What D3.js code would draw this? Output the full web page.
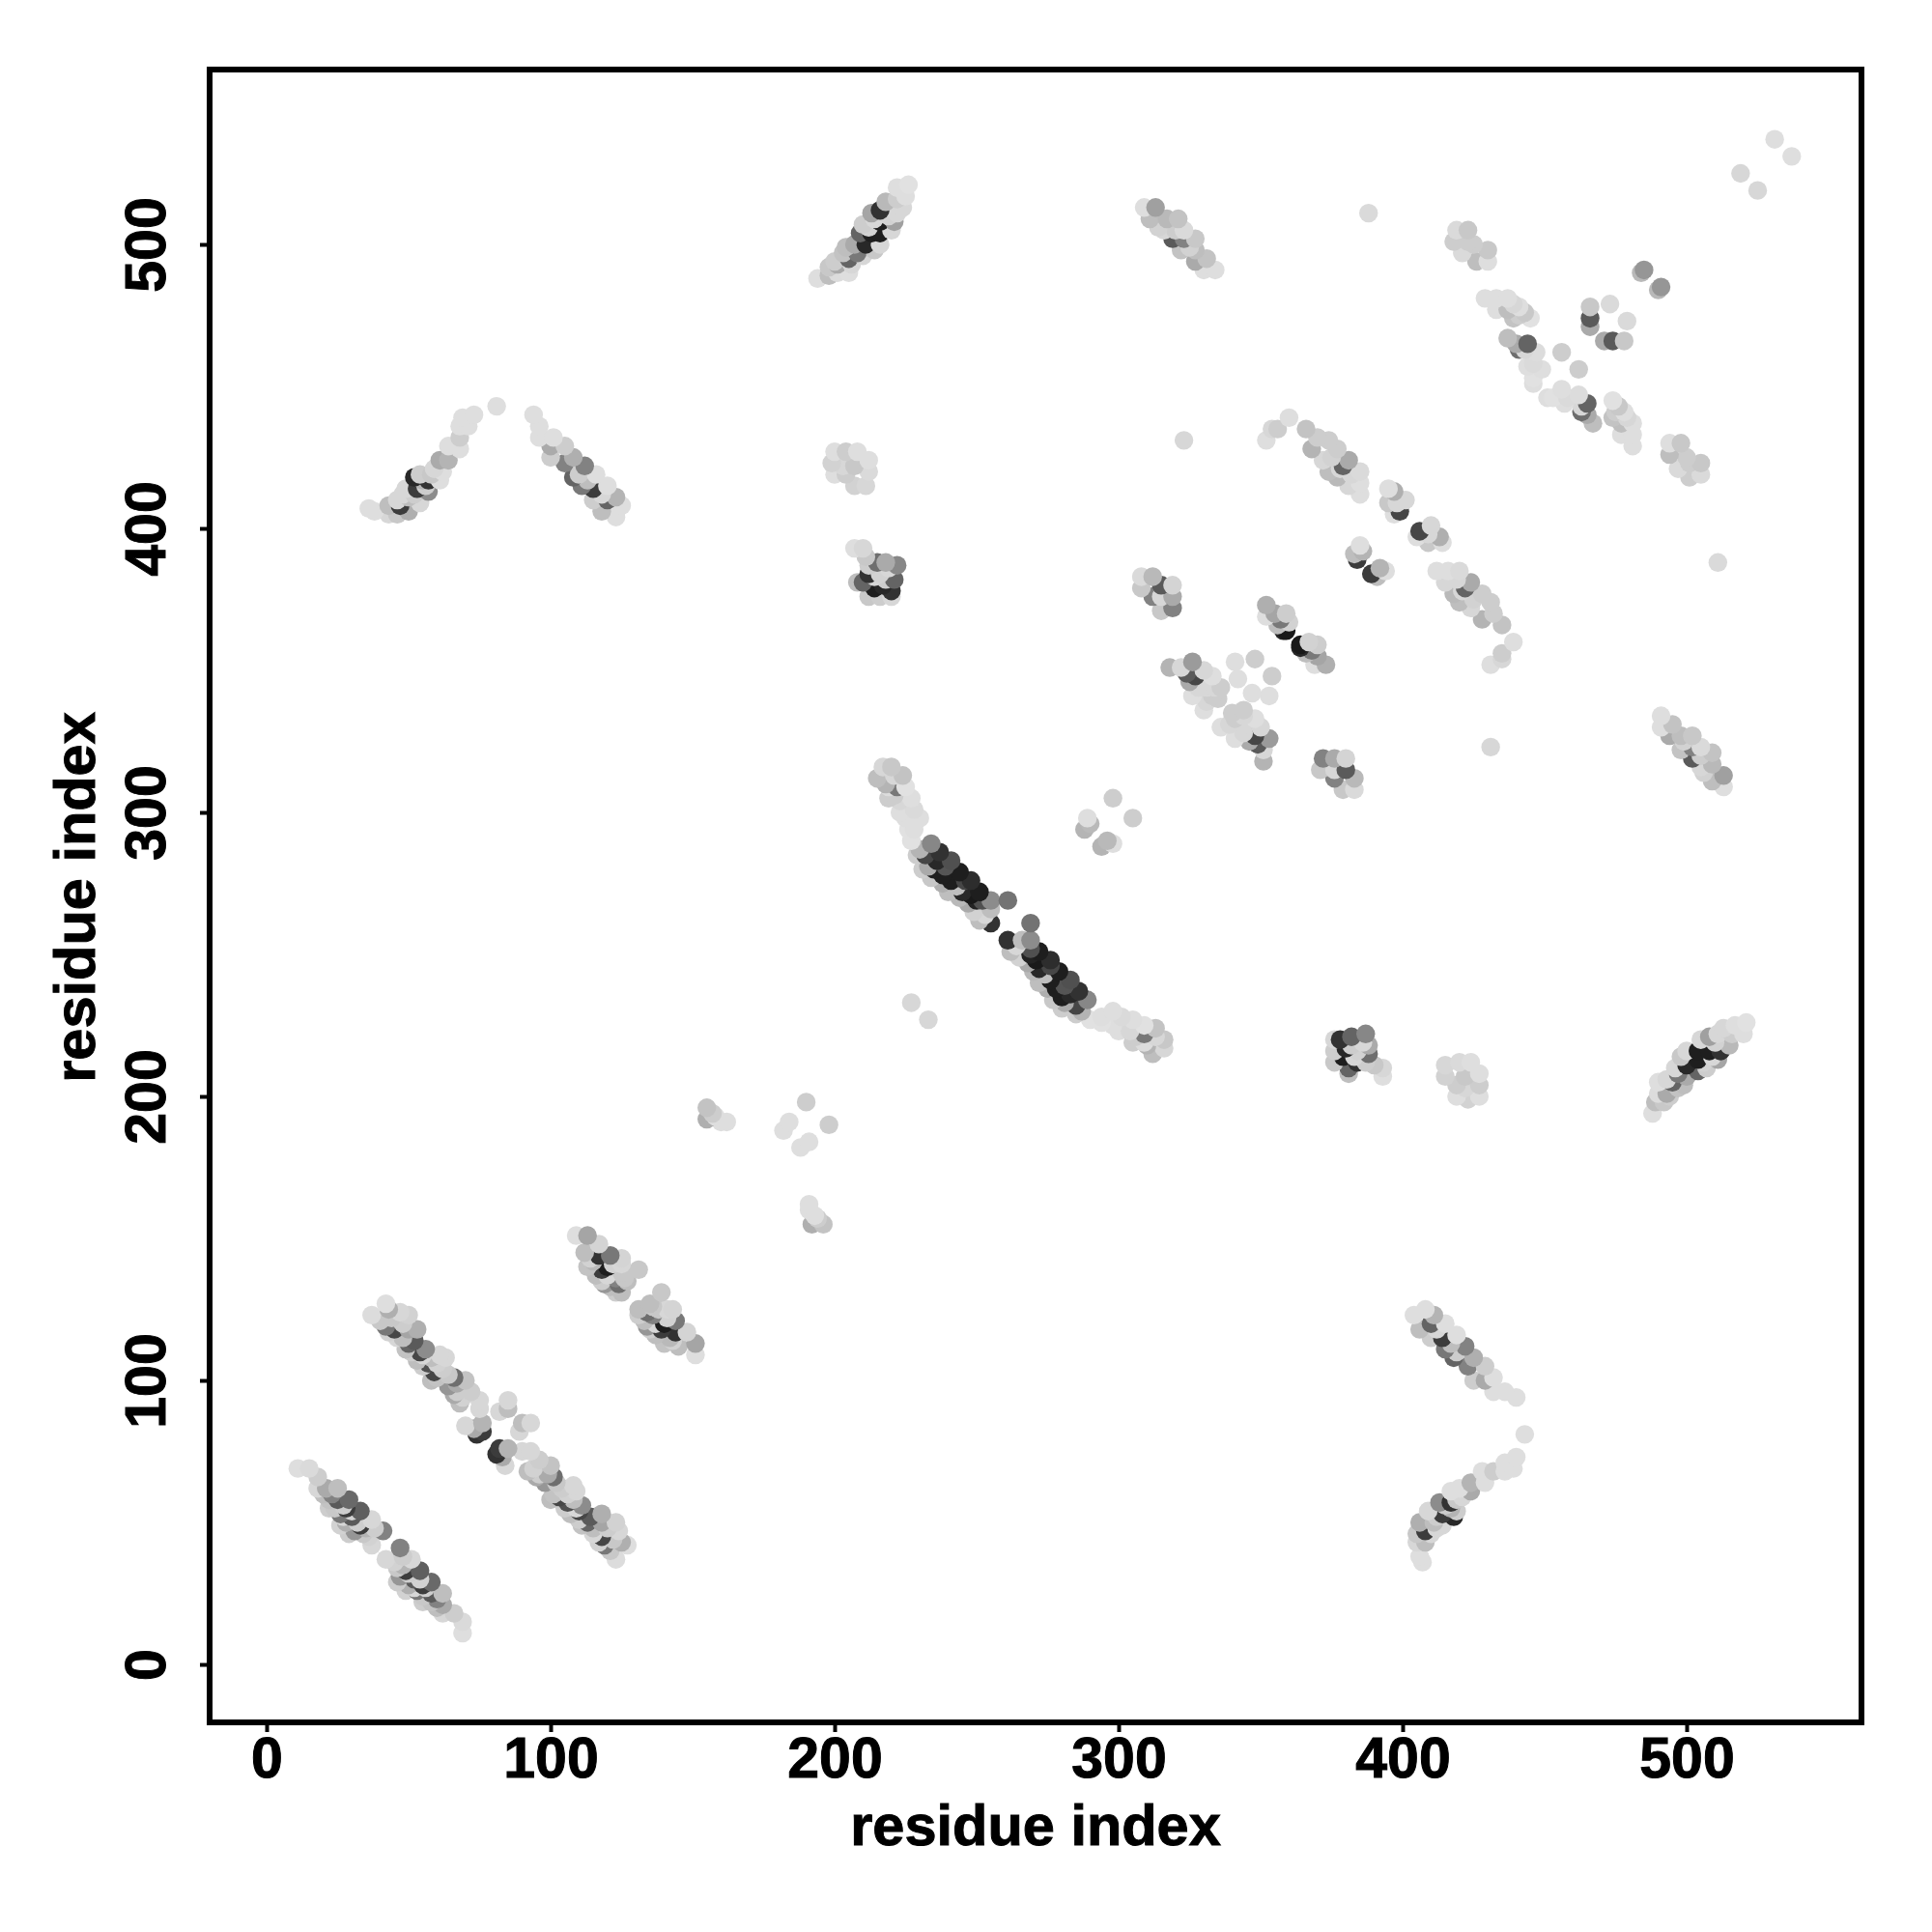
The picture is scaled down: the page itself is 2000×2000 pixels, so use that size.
<!DOCTYPE html>
<html><head><meta charset="utf-8">
<script src="https://cdn.jsdelivr.net/npm/d3@7"></script>
<style>html,body{margin:0;padding:0;background:#fff}svg{display:block}text{font-family:"Liberation Sans",Arial,sans-serif;font-weight:700;fill:#000;stroke:#000;stroke-width:1px}</style>
</head><body><div id="chart"></div>
<script>
// Each row: residue i, residue j, gray level. The map is symmetric: (i,j) is also drawn as (j,i).
const tickValues = [0,100,200,300,400,500];
const axisLabel = "residue index";
const strandA = [[11,69,222],[15,69,218],[18,66,205],[18,62,215],[20,60,190],[21,62,170],[22,58,195],[25,62,190],[24,55,200],[26,53,120],[27,56,205],[29,58,105],[28,50,175],[30,54,210],[30,52,90],[33,54,95],[31,47,150],[33,49,60],[35,48,180],[37,51,215],[36,45,210],[38,48,205],[37,42,215],[41,47,130],[23,60,130],[25,58,90],[27,52,215],[32,50,205],[34,46,200],[28,55,60],[22,55,205],[26,49,210],[29,46,205]];
const strandB = [[37,123,220],[42,127,222],[40,121,200],[43,125,175],[42,119,120],[44,122,200],[45,118,70],[47,124,215],[48,120,205],[50,123,210],[48,115,190],[50,118,165],[53,118,175],[50,113,100],[52,114,90],[49,111,195],[54,110,70],[56,111,140],[55,105,205],[57,106,80],[61,109,215],[59,103,70],[63,108,215],[60,101,195],[62,104,205],[66,101,110],[64,98,150],[67,99,170],[70,100,195],[66,95,170],[68,92,190],[72,96,205],[75,93,215],[75,90,215],[70,84,215],[73,83,170],[74,81,50],[76,82,60],[76,85,180],[82,89,215],[85,90,190],[85,93,215],[43,117,210],[46,115,215],[51,110,205],[53,107,190],[55,109,215],[58,108,190],[58,100,190],[60,106,210],[64,102,200],[67,96,205],[69,94,210]];
const strandC = [[109,151,222],[112,145,190],[113,151,165],[115,142,185],[117,144,50],[117,148,212],[113,140,195],[116,137,190],[118,139,60],[121,144,120],[120,140,30],[119,134,150],[121,133,190],[123,136,130],[125,143,212],[124,134,110],[125,138,200],[125,131,190],[127,135,190],[131,139,200],[114,143,210],[118,135,205],[120,137,215],[122,141,210],[123,131,205],[125,141,215],[126,136,200]];
const clusterD = [[155,192,175],[155,196,195],[157,194,205],[158,193,222],[160,191,222],[162,191,222]];
const clusterE = [[190,198,205],[182,188,222],[184,191,222]];
const mainCurve = [[215,312,190],[217,316,215],[218,310,180],[220,316,200],[221,306,205],[222,309,120],[219,309,220],[221,313,215],[224,313,195],[223,304,215],[225,309,225],[227,305,222],[225,298,222],[228,301,218],[226,294,225],[230,298,222],[227,290,225],[229,285,205],[230,287,180],[232,285,70],[234,289,135],[233,281,170],[235,280,30],[236,283,40],[237,286,50],[238,275,175],[238,278,30],[239,281,85],[241,283,80],[241,276,30],[243,274,190],[244,279,30],[245,272,40],[246,276,70],[248,276,45],[247,268,170],[248,271,25],[250,269,35],[251,272,30],[252,269,80],[251,262,190],[253,264,215],[255,266,190],[255,269,140],[255,261,50],[261,269,115],[219,305,205],[223,300,222],[231,280,205],[234,277,200],[240,272,190],[244,270,185],[249,265,210],[228,294,222]];
const pairsF = [[227,233,215],[298,305,205],[288,294,180],[289,298,222],[290,296,185]];
const strandG = [[194,488,222],[198,489,190],[198,492,200],[201,490,220],[203,497,195],[201,493,170],[205,490,222],[205,495,100],[206,493,215],[207,500,170],[209,504,100],[208,497,120],[211,500,40],[213,504,30],[216,504,30],[216,500,215],[214,498,200],[216,508,30],[213,511,165],[216,512,50],[221,508,160],[218,515,185],[222,511,215],[222,516,205],[222,520,222],[225,517,222],[226,521,225],[200,494,205],[204,499,190],[210,507,205],[212,506,210],[214,509,215],[219,510,210],[210,496,215],[220,505,215],[224,513,215]];
const clusterH = [[199,423,210],[200,427,222],[200,419,222],[204,427,205],[203,422,215],[204,419,205],[207,422,200],[207,415,210],[208,427,222],[211,415,215],[212,420,218],[212,424,222]];
const clusterI = [[207,393,222],[208,381,190],[210,393,215],[210,381,100],[211,390,200],[212,376,200],[212,384,50],[215,388,110],[214,379,30],[216,376,205],[216,384,210],[218,388,170],[217,380,40],[220,378,50],[220,376,215],[221,382,100],[219,386,215],[222,387,135],[212,387,205],[214,383,215],[218,382,205]];
const strandJ = [[309,513,222],[311,509,190],[313,513,160],[316,505,215],[317,509,185],[319,502,90],[321,509,195],[322,498,195],[323,505,218],[323,502,130],[327,494,170],[327,498,190],[327,502,200],[330,491,222],[331,495,195],[334,491,222],[314,506,210],[320,505,205],[325,499,210]];
const clusterK = [[308,379,200],[308,383,218],[312,383,185],[312,376,130],[315,371,200],[315,376,215],[315,380,90],[319,372,130],[319,376,170],[319,380,212]];
const singles = [[323,431,215],[388,511,218],[456,462,205],[519,525,215],[531,537,222]];
const curveL = [[352,431,222],[354,435,215],[356,435,205],[360,439,222],[366,435,195],[368,428,180],[370,432,205],[372,424,215],[374,431,205],[374,420,190],[377,428,205],[377,418,185],[379,422,100],[381,415,215],[381,424,170],[385,412,222],[385,416,222],[385,420,218],[375,425,210],[378,421,215],[382,419,215]];
const clusterM = [[395,414,222],[395,409,200],[397,413,175],[397,405,222],[399,406,70],[401,410,215],[398,409,215]];
const clusterN = [[383,391,190],[384,389,60],[385,394,222],[386,392,180]];
const crossO = [[318,351,180],[322,351,215],[324,349,90],[326,353,155],[326,341,222],[325,346,170],[327,348,70],[330,350,215],[330,336,222],[331,344,215],[333,348,222],[333,341,205],[335,340,205],[336,344,205],[342,347,222],[341,353,222],[348,354,205],[328,344,215],[331,339,215],[334,344,215]];
const clusterP = [[352,373,175],[352,369,222],[355,370,165],[356,366,190],[357,368,120],[358,364,40],[359,364,25],[359,370,205],[360,367,210]];
const strandQ = [[419,505,218],[418,501,205],[423,505,200],[421,497,218],[423,501,205],[425,500,205],[426,494,190],[430,498,200],[430,494,222]];
const clusterR = [[484,490,185],[485,491,150],[466,471,170],[466,474,90],[466,478,200],[473,479,218]];
const crossS = [[429,481,222],[433,481,222],[433,477,222],[437,481,222],[437,477,190],[439,474,195],[441,478,222],[443,476,200],[445,474,225],[437,467,190],[440,465,170],[441,463,110],[443,463,215],[444,465,100],[447,462,220],[444,457,222],[446,453,225],[449,456,222],[446,458,218],[439,479,215],[441,475,205],[446,451,222]];
const armT = [[36,407,222],[38,406,222],[43,405,215],[43,408,190],[46,405,200],[46,410,215],[47,408,60],[50,406,175],[50,411,190],[49,414,215],[52,418,40],[53,414,60],[54,409,215],[55,417,180],[57,413,140],[57,417,50],[58,419,200],[59,421,215],[61,424,170],[61,417,222],[62,420,222],[64,424,180],[64,429,222],[68,428,222],[68,432,205],[68,436,222],[69,439,222],[71,436,222],[73,440,222],[81,443,222],[48,412,215],[52,412,205],[54,419,205],[56,415,205]];
const armU = [[94,440,222],[96,436,222],[96,432,222],[100,425,205],[100,429,170],[101,432,222],[105,429,205],[105,423,130],[108,425,175],[108,418,100],[111,415,120],[112,422,130],[115,414,60],[115,410,205],[116,419,222],[118,406,190],[120,415,222],[120,410,100],[123,404,222],[123,411,180],[125,408,222],[110,419,205],[113,417,190],[118,412,215]];

const contactSets = [strandA,strandB,strandC,clusterD,clusterE,mainCurve,pairsF,strandG,clusterH,clusterI,strandJ,clusterK,singles,curveL,clusterM,clusterN,crossO,clusterP,strandQ,clusterR,crossS,armT,armU];

const width=2000,height=2000;
const frame={left:217,right:1927,top:72,bottom:1783};
const x=d3.scaleLinear().domain([0,500]).range([276,1746]);
const y=d3.scaleLinear().domain([0,500]).range([1723,253]);
const gray=d3.scaleLinear().domain([0,255]).range(["#000000","#ffffff"]);
const svg=d3.select("#chart").append("svg").attr("width",width).attr("height",height);
svg.append("rect").attr("width",width).attr("height",height).attr("fill","#fff");

const points=contactSets.flatMap(set=>set.map(d=>({i:d[0],j:d[1],level:d[2]})).concat(set.map(d=>({i:d[1],j:d[0],level:d[2]}))))
  .sort((a,b)=>d3.ascending(a.j,b.j)||d3.ascending(a.i,b.i));
svg.append("g").selectAll("circle").data(points).join("circle")
  .attr("cx",d=>x(d.i)).attr("cy",d=>y(d.j)).attr("r",9.7).attr("fill",d=>gray(d.level));

svg.append("rect").attr("x",frame.left).attr("y",frame.top)
  .attr("width",frame.right-frame.left).attr("height",frame.bottom-frame.top)
  .attr("fill","none").attr("stroke","#000").attr("stroke-width",6);

const gx=svg.append("g").attr("transform",`translate(0,${frame.bottom})`)
  .call(d3.axisBottom(x).tickValues(tickValues).tickSize(10).tickPadding(6).tickFormat(d3.format("d")));
const gy=svg.append("g").attr("transform",`translate(${frame.left},0)`)
  .call(d3.axisLeft(y).tickValues(tickValues).tickSize(10).tickPadding(0).tickFormat(d3.format("d")));
[gx,gy].forEach(g=>{g.select(".domain").remove();g.selectAll("line").attr("stroke","#000").attr("stroke-width",4);});
gx.selectAll("text").attr("font-size",59).attr("dy",null).attr("text-anchor","middle").attr("y",57);
gy.selectAll("text").attr("x",null).attr("dy",null).attr("font-size",59).attr("text-anchor","middle").attr("transform","translate(-46,0) rotate(-90)");
svg.append("text").attr("x",1072).attr("y",1910).attr("text-anchor","middle").attr("font-size",59.5).text(axisLabel);
svg.append("text").attr("transform","translate(98,929) rotate(-90)").attr("text-anchor","middle").attr("font-size",59.5).text(axisLabel);
</script></body></html>
